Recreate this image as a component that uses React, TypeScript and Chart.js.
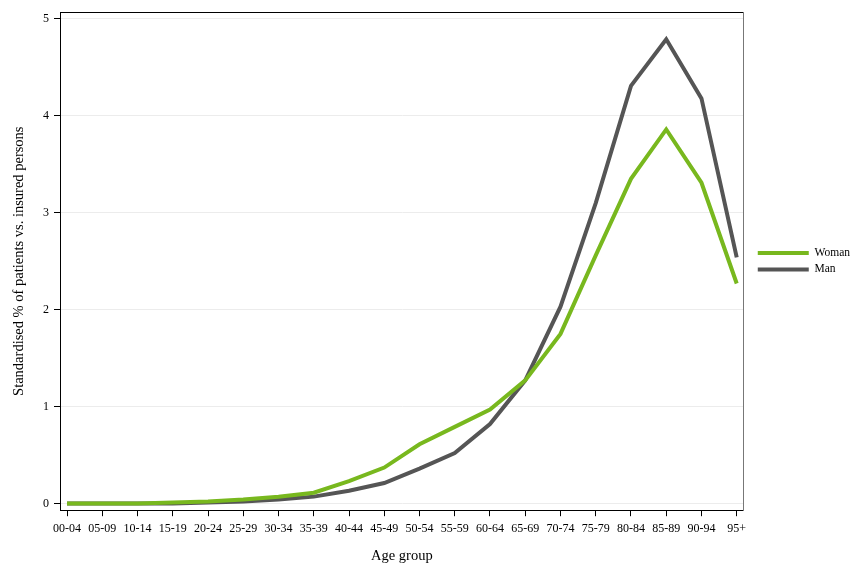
import React, { useEffect, useRef } from "react";
import { Chart, registerables } from "chart.js";

Chart.register(...registerables);

const ageGroups = [
  "00-04", "05-09", "10-14", "15-19", "20-24", "25-29", "30-34", "35-39", "40-44", "45-49",
  "50-54", "55-59", "60-64", "65-69", "70-74", "75-79", "80-84", "85-89", "90-94", "95+",
];
const womanValues = [
  0.0, 0.0, 0.0, 0.01, 0.02, 0.04, 0.07, 0.11, 0.23, 0.37,
  0.61, 0.79, 0.97, 1.27, 1.75, 2.56, 3.35, 3.86, 3.31, 2.27,
];
const manValues = [
  0.0, 0.0, 0.0, 0.0, 0.01, 0.02, 0.04, 0.07, 0.13, 0.21,
  0.36, 0.52, 0.82, 1.27, 2.03, 3.1, 4.31, 4.79, 4.18, 2.54,
];
const yTicks = [0, 1, 2, 3, 4, 5];
const seriesNames = ["Woman", "Man"];

const FONT = "'Liberation Serif', 'Times New Roman', serif";

export default function App() {
  const ref = useRef<HTMLCanvasElement | null>(null);

  useEffect(() => {
    document.body.style.margin = "0";
    const canvas = ref.current;
    if (!canvas) return;
    const toPoints = (vals: number[]) => vals.map((v, i) => ({ x: i, y: v }));
    const chart = new Chart(canvas, {
      type: "line",
      data: {
        datasets: [
          {
            label: seriesNames[0],
            data: toPoints(womanValues),
            borderColor: "#78b81e",
            backgroundColor: "#78b81e",
            borderWidth: 4,
            pointRadius: 0,
            tension: 0,
          },
          {
            label: seriesNames[1],
            data: toPoints(manValues),
            borderColor: "#555555",
            backgroundColor: "#555555",
            borderWidth: 4,
            pointRadius: 0,
            tension: 0,
          },
        ],
      },
      options: {
        animation: false,
        responsive: false,
        layout: { padding: { left: 0, right: 4, top: 0, bottom: 11 } },
        plugins: {
          tooltip: { enabled: false },
          legend: {
            position: "right",
            fullSize: false,
            align: "center",
            labels: {
              usePointStyle: true,
              pointStyle: "line",
              pointStyleWidth: 51,
              padding: 5,
              color: "#000",
              font: { family: FONT, size: 11.5 },
            },
          },
        },
        scales: {
          x: {
            type: "linear",
            position: "bottom",
            min: -0.2,
            max: 19.2,
            afterBuildTicks: (s: any) => {
              s.ticks = ageGroups.map((_, i) => ({ value: i }));
            },
            ticks: {
              includeBounds: false,
              autoSkip: false,
              maxRotation: 0,
              padding: 5,
              color: "#000",
              font: { family: FONT, size: 12 },
              callback: (v: any) => ageGroups[Number(v)] ?? "",
            },
            grid: {
              drawOnChartArea: false,
              tickLength: 6,
              tickColor: "#000",
              color: "#000",
            },
            border: { color: "#000", width: 1 },
            title: {
              display: true,
              text: "Age group",
              color: "#000",
              font: { family: FONT, size: 14.5 },
              padding: { top: 7, bottom: 0 },
            },
          },
          x2: {
            type: "linear",
            position: "top",
            min: -0.2,
            max: 19.2,
            ticks: { display: false },
            grid: { display: false },
            border: { color: "#000", width: 1 },
            afterFit: (s: any) => {
              s.height = 10;
            },
          },
          y: {
            type: "linear",
            position: "left",
            min: -0.07,
            max: 5.07,
            afterBuildTicks: (s: any) => {
              s.ticks = yTicks.map((v) => ({ value: v }));
            },
            ticks: {
              includeBounds: false,
              padding: 5,
              color: "#000",
              font: { family: FONT, size: 12 },
            },
            grid: {
              color: "#ececec",
              tickColor: "#000",
              tickLength: 6,
              lineWidth: 1,
            },
            border: { color: "#000", width: 1 },
            title: {
              display: true,
              text: "Standardised % of patients vs. insured persons",
              color: "#000",
              font: { family: FONT, size: 14.5 },
              padding: { top: 10, bottom: 8 },
            },
            afterFit: (s: any) => {
              s.width = 60;
            },
          },
          y2: {
            type: "linear",
            position: "right",
            min: -0.07,
            max: 5.07,
            ticks: { display: false },
            grid: { display: false },
            border: { color: "#777777", width: 1 },
            afterFit: (s: any) => {
              s.width = 9;
            },
          },
        },
      },
    });
    return () => chart.destroy();
  }, []);

  return (
    <div style={{ width: 864, height: 576 }}>
      <canvas ref={ref} width={864} height={576} style={{ display: "block" }} />
    </div>
  );
}
